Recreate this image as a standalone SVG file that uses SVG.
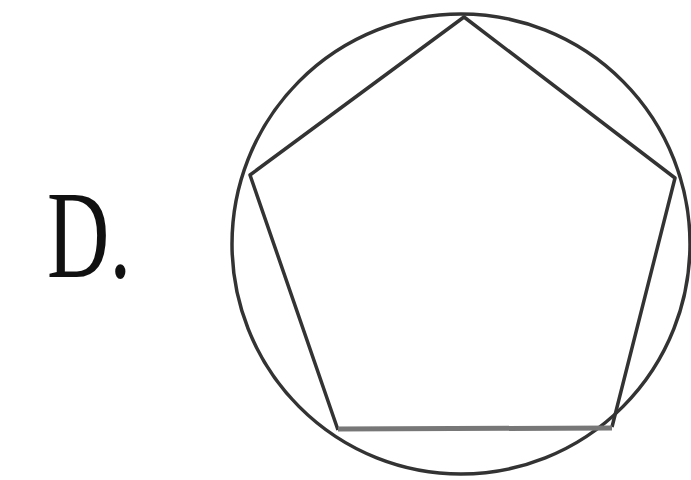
<svg xmlns="http://www.w3.org/2000/svg" width="691" height="480" viewBox="0 0 691 480">
<style>
.ln{fill:none;stroke:#333;stroke-width:3.5;stroke-linejoin:round}
.lbl{font-family:"Liberation Serif",serif;font-size:124px;fill:#111}
</style>
<rect width="691" height="480" fill="#fff"/>
<g id="label"><text class="lbl" x="47" y="277" textLength="84" lengthAdjust="spacingAndGlyphs">D.</text></g>
<g id="circle"><ellipse class="ln" cx="461" cy="244" rx="229" ry="230"/></g>
<g id="pentagon">
<polyline class="ln" points="338,430 250,175 464,17 675,178 612,427"/>
<line x1="338" y1="429" x2="612" y2="428" stroke="#777" stroke-width="5"/>
</g>
</svg>
